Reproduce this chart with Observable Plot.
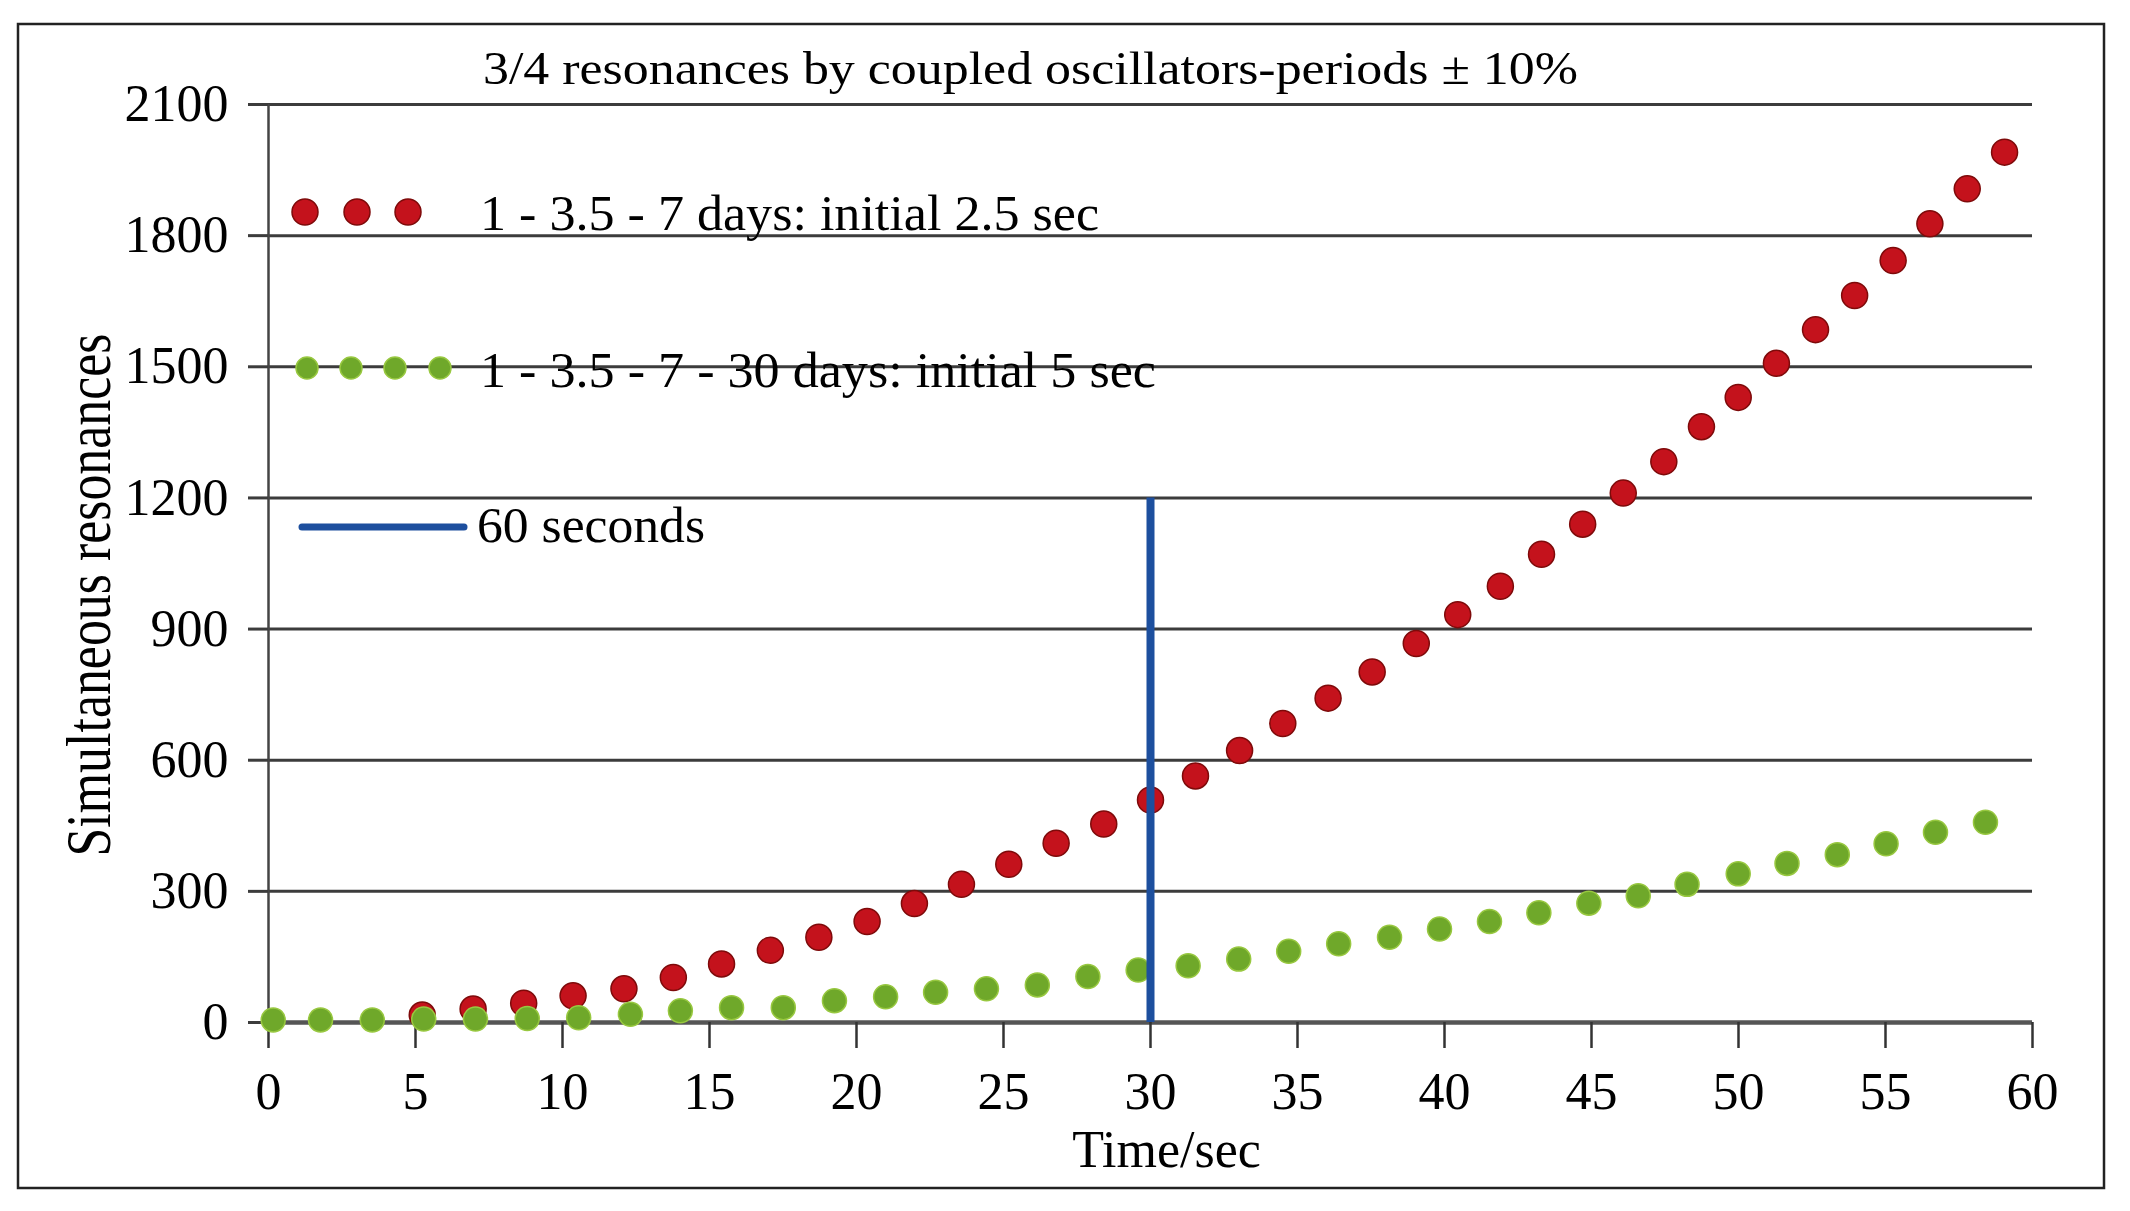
<!DOCTYPE html>
<html>
<head>
<meta charset="utf-8">
<script src="https://cdn.jsdelivr.net/npm/d3@7"></script>
<script src="https://cdn.jsdelivr.net/npm/@observablehq/plot@0.6"></script>
<style>
  html, body { margin: 0; padding: 0; background: #fff; }
  #wrap { position: relative; width: 2130px; height: 1211px; overflow: hidden; }
  #overlay { position: absolute; left: 0; top: 0; pointer-events: none; }
</style>
</head>
<body>
<div id="wrap"><div id="chart"></div></div>
<script>
// ---- data ----
const xTicks = [0, 5, 10, 15, 20, 25, 30, 35, 40, 45, 50, 55, 60];
const yTicks = [0, 300, 600, 900, 1200, 1500, 1800, 2100];

// series 1: 1 - 3.5 - 7 days: initial 2.5 sec (red)
const redTime  = [5.23, 6.96, 8.68, 10.36, 12.09, 13.77, 15.41, 17.07, 18.72, 20.36, 21.97, 23.57, 25.18, 26.79, 28.41, 30.0, 31.53, 33.03, 34.5, 36.04, 37.54, 39.04, 40.45, 41.9, 43.3, 44.7, 46.08, 47.46, 48.74, 49.99, 51.29, 52.62, 53.95, 55.26, 56.51, 57.78, 59.05];
const redValue = [17, 31, 44, 61, 77, 103, 134, 165, 195, 231, 272, 316, 362, 410, 454, 509, 564, 622, 684, 742, 802, 867, 933, 998, 1071, 1140, 1211, 1283, 1363, 1430, 1508, 1585, 1663, 1743, 1827, 1907, 1991];

// series 2: 1 - 3.5 - 7 - 30 days: initial 5 sec (green)
const greenTime  = [0.16, 1.77, 3.53, 5.28, 7.04, 8.8, 10.55, 12.31, 14.01, 15.75, 17.51, 19.25, 20.99, 22.69, 24.42, 26.15, 27.87, 29.58, 31.28, 33.0, 34.7, 36.4, 38.13, 39.83, 41.53, 43.21, 44.91, 46.59, 48.25, 49.99, 51.65, 53.36, 55.02, 56.7, 58.4];
const greenValue = [6, 6, 6, 8, 8, 9, 11, 19, 27, 34, 34, 50, 59, 69, 77, 86, 105, 120, 130, 145, 163, 180, 195, 214, 231, 251, 273, 290, 316, 340, 364, 384, 409, 435, 458];

// marker line: 60 seconds
const markerTime = [30];
const markerTop = 1200;

const titleText = "3/4 resonances by coupled oscillators-periods \u00b1 10%";
const legendLabels = ["1 - 3.5 - 7 days: initial 2.5 sec", "1 - 3.5 - 7 - 30 days: initial 5 sec", "60 seconds"];
const xLabel = "Time/sec";
const yLabel = "Simultaneous resonances";

// ---- styles ----
const RED = "#c4121c", RED_EDGE = "#7e0a0a";
const GREEN = "#6fa82a", GREEN_EDGE = "#98c840";
const BLUE = "#1d4f9e";
const GRID = "#3c3c3c";
const FONT = "'Liberation Serif', 'Times New Roman', serif";

const redRows = redTime.map((t, i) => ({t, v: redValue[i]}));
const greenRows = greenTime.map((t, i) => ({t, v: greenValue[i]}));

const chart = Plot.plot({
  width: 2130,
  height: 1211,
  marginLeft: 268,
  marginRight: 98,
  marginTop: 104,
  marginBottom: 189,
  x: {domain: [0, 60]},
  y: {domain: [0, 2100]},
  style: {fontFamily: FONT, background: "transparent", color: "#000", overflow: "visible"},
  marks: [
    Plot.ruleY(yTicks.filter(d => d > 0), {stroke: GRID, strokeWidth: 3}),
    Plot.ruleX([0], {y1: 0, y2: 2100, stroke: "#444", strokeWidth: 2.5}),
    Plot.ruleY([0], {stroke: "#555", strokeWidth: 4.5}),
    Plot.axisY({ticks: yTicks, tickSize: 20, tickPadding: 20, fontSize: 52, label: null, tickFormat: "d", stroke: GRID, strokeWidth: 3}),
    Plot.axisX({ticks: xTicks, tickSize: 26, tickPadding: 24, fontSize: 52, label: null, tickFormat: "d", stroke: "#333", strokeWidth: 2.5}),
    Plot.dot(redRows, {x: "t", y: "v", r: 13, fill: RED, stroke: RED_EDGE, strokeWidth: 1.5}),
    Plot.dot(greenRows, {x: "t", y: "v", r: 12, fill: GREEN, stroke: GREEN_EDGE, strokeWidth: 1.5}),
    Plot.ruleX(markerTime, {y1: 0, y2: markerTop, stroke: BLUE, strokeWidth: 8}),
    Plot.text([xLabel], {frameAnchor: "bottom", dx: 16, dy: 128, lineAnchor: "middle", fontSize: 52, fill: "#000"})
  ]
});
document.getElementById("chart").appendChild(chart);

// ---- overlay: frame, title, legend, y label ----
const ov = d3.select("#wrap").append("svg")
  .attr("id", "overlay")
  .attr("width", 2130).attr("height", 1211)
  .style("font-family", FONT);

ov.append("rect")
  .attr("x", 18).attr("y", 24).attr("width", 2086).attr("height", 1164)
  .attr("fill", "none").attr("stroke", "#222").attr("stroke-width", 2.5);

ov.append("text")
  .attr("x", 483).attr("y", 84)
  .attr("font-size", 47)
  .attr("textLength", 1095).attr("lengthAdjust", "spacingAndGlyphs")
  .attr("fill", "#000")
  .text(titleText);

// legend row 1 (red dots)
[305, 357, 408].forEach(cx => ov.append("circle")
  .attr("cx", cx).attr("cy", 212).attr("r", 13)
  .attr("fill", RED).attr("stroke", RED_EDGE).attr("stroke-width", 1.5));
ov.append("text").attr("x", 480).attr("y", 230).attr("font-size", 51)
  .attr("textLength", 619).attr("lengthAdjust", "spacingAndGlyphs")
  .text(legendLabels[0]);

// legend row 2 (green dots)
[307, 351, 395, 440].forEach(cx => ov.append("circle")
  .attr("cx", cx).attr("cy", 368).attr("r", 11)
  .attr("fill", GREEN).attr("stroke", GREEN_EDGE).attr("stroke-width", 1.5));
ov.append("text").attr("x", 480).attr("y", 387).attr("font-size", 51)
  .attr("textLength", 676).attr("lengthAdjust", "spacingAndGlyphs")
  .text(legendLabels[1]);

// legend row 3 (blue line)
ov.append("line").attr("x1", 302).attr("x2", 464).attr("y1", 527).attr("y2", 527)
  .attr("stroke", BLUE).attr("stroke-width", 7).attr("stroke-linecap", "round");
ov.append("text").attr("x", 477).attr("y", 542).attr("font-size", 51)
  .attr("textLength", 228).attr("lengthAdjust", "spacingAndGlyphs")
  .text(legendLabels[2]);

// y label
ov.append("text")
  .attr("transform", "translate(110,595) rotate(-90)")
  .attr("text-anchor", "middle")
  .attr("font-size", 63)
  .attr("textLength", 523).attr("lengthAdjust", "spacingAndGlyphs")
  .text(yLabel);
</script>
</body>
</html>
